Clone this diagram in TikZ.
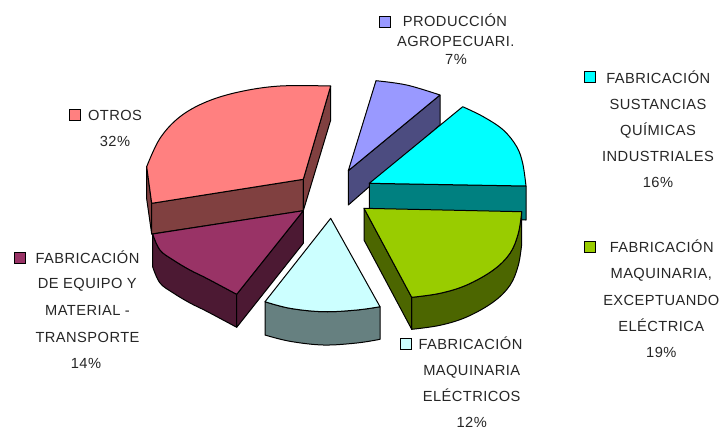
\documentclass[tikz,border=0pt]{standalone}
\usepackage{fontspec}
\newfontfamily\lblfont[LetterSpace=3]{Liberation Sans}
\definecolor{pinktop}{HTML}{FF8080}
\definecolor{pinkside}{HTML}{804040}
\definecolor{martop}{HTML}{993366}
\definecolor{marside}{HTML}{4C1933}
\definecolor{lctop}{HTML}{CCFFFF}
\definecolor{lcside}{HTML}{668080}
\definecolor{grtop}{HTML}{99CC00}
\definecolor{grside}{HTML}{4C6600}
\definecolor{cytop}{HTML}{00FFFF}
\definecolor{cyside}{HTML}{008080}
\definecolor{putop}{HTML}{9999FF}
\definecolor{puside}{HTML}{4C4C80}
\tikzset{
  face/.style={draw=black, line width=0.75pt, line join=round},
  lbl/.style={anchor=base, inner sep=0pt, text=black!85, font=\lblfont\fontsize{11}{13}\selectfont},
  lgd/.style={draw=black, line width=0.75pt, minimum size=8pt, inner sep=0pt},
  arc/.style={smooth, tension=0.6}
}
\begin{document}
\begin{tikzpicture}[x=0.75pt, y=-0.75pt]
\useasboundingbox (0,0) rectangle (722,430);

% ---------- PRODUCCION AGROPECUARIA (purple) ----------
\fill[puside, face] (348.3,170.7) -- (440,95) -- (440,125) -- (348.3,205) -- cycle;
\fill[putop, face] (348.3,170.7) -- (376,80.7)
  -- plot[arc] coordinates {(376,80.7) (406.7,85) (440,95)} -- cycle;

% ---------- SUSTANCIAS QUIMICAS (cyan) ----------
\fill[cyside, face] (369.3,183.3) -- (526,186) -- (526,220) -- (369.3,216) -- cycle;
\fill[cytop, face] (369.3,183.3) -- (462.7,106.7)
  -- plot[arc] coordinates {(462.7,106.7) (483.3,116.7) (503.3,130) (516.7,146.7) (522.7,163.3) (526,186)} -- cycle;

% ---------- OTROS (pink) ----------
\fill[pinkside, face] (146.7,166.7) -- (151.7,203.3) -- (151.7,234) -- (146.7,199) -- cycle;
\fill[pinkside, face] (151.7,203.3) -- (303.3,179.3) -- (303.3,210.7) -- (151.7,234) -- cycle;
\fill[pinkside, face] (330.7,86) -- (330.7,120) -- (303.3,210.7) -- (303.3,179.3) -- cycle;
\fill[pinktop, face] (151.7,203.3) -- (303.3,179.3) -- (330.7,86)
  -- plot[arc] coordinates {(330.7,86) (280,86) (240,91.7) (206.7,101.7) (180,116.7) (160,138.3) (146.7,166.7)} -- cycle;

% ---------- EQUIPO Y MATERIAL DE TRANSPORTE (maroon) ----------
\fill[marside, face] plot[arc] coordinates {(152.7,234) (160,250) (173.3,260) (190,270) (206.7,278.3) (236.7,294.3)}
  -- (236.7,327.3)
  -- plot[arc] coordinates {(236.7,327.3) (206.7,311.3) (190,303) (173.3,293) (160,283) (152.7,267)} -- cycle;
\fill[marside, face] (303.3,210.7) -- (236.7,294.3) -- (236.7,327.3) -- (303.3,243.3) -- cycle;
\fill[martop, face] (303.3,210.7) -- (152.7,234)
  -- plot[arc] coordinates {(152.7,234) (160,250) (173.3,260) (190,270) (206.7,278.3) (236.7,294.3)} -- cycle;

% ---------- MAQUINARIA ELECTRICOS (light cyan) ----------
\fill[lcside, face] plot[arc] coordinates {(265,301.7) (290,308.3) (323.3,311.7) (356.7,310) (380,306.7)}
  -- (380,339.3)
  -- plot[arc] coordinates {(380,339.3) (356.7,343) (323.3,345) (290,341.3) (265,335)} -- cycle;
\fill[lctop, face] (330.7,218.3) -- (265,301.7)
  -- plot[arc] coordinates {(265,301.7) (290,308.3) (323.3,311.7) (356.7,310) (380,306.7)} -- cycle;

% ---------- MAQUINARIA EXCEPTUANDO ELECTRICA (green) ----------
\fill[grside, face] plot[arc] coordinates {(521.7,211.7) (518.3,233.3) (510,253.3) (493.3,270) (466.7,285) (440,293.3) (411.7,297.3)}
  -- (411.7,329.3)
  -- plot[arc] coordinates {(411.7,329.3) (440,325.3) (466.7,317) (493.3,302) (510,285.3) (518.3,265.3) (521.7,244)} -- cycle;
\fill[grside, face] (364,208.3) -- (411.7,297.3) -- (411.7,329.3) -- (364,240) -- cycle;
\fill[grtop, face] (364,208.3) -- (521.7,211.7)
  -- plot[arc] coordinates {(521.7,211.7) (518.3,233.3) (510,253.3) (493.3,270) (466.7,285) (440,293.3) (411.7,297.3)} -- cycle;

% ---------- Labels ----------
% Produccion agropecuaria
\node[lgd, fill=putop] (sqpa) at (385,21.7) {};
\node[lbl] (pa1) at (455,26.7) {PRODUCCIÓN};
\node[lbl] (pa2) at (455.8,46.7) {AGROPECUARI.};
\node[lbl] (pa3) at (456,64.3) {7\%};

% Sustancias quimicas
\node[lgd, fill=cytop] (sqsq) at (590,77.3) {};
\node[lbl] (sq1) at (658.3,83.3) {FABRICACIÓN};
\node[lbl] (sq2) at (658,109.3) {SUSTANCIAS};
\node[lbl] (sq3) at (658,135) {QUÍMICAS};
\node[lbl] (sq4) at (658,161.7) {INDUSTRIALES};
\node[lbl] (sq5) at (658,187.7) {16\%};

% Otros
\node[lgd, fill=pinktop] (sqot) at (75,115) {};
\node[lbl] (ot1) at (115,120) {OTROS};
\node[lbl] (ot2) at (115,146) {32\%};

% Equipo y material de transporte
\node[lgd, fill=martop] (sqeq) at (20,258.3) {};
\node[lbl] (eq1) at (87.5,263.3) {FABRICACIÓN};
\node[lbl] (eq2) at (87.3,288.3) {DE EQUIPO Y};
\node[lbl] (eq3) at (87.5,315.7) {MATERIAL -};
\node[lbl] (eq4) at (87.5,342.3) {TRANSPORTE};
\node[lbl] (eq5) at (86,368.3) {14\%};

% Maquinaria exceptuando electrica
\node[lgd, fill=grtop] (sqgr) at (590,246.7) {};
\node[lbl] (gr1) at (661.7,252.3) {FABRICACIÓN};
\node[lbl] (gr2) at (661.3,278.3) {MAQUINARIA,};
\node[lbl] (gr3) at (661.3,305) {EXCEPTUANDO};
\node[lbl] (gr4) at (661.3,331.7) {ELÉCTRICA};
\node[lbl] (gr5) at (661.3,357.3) {19\%};

% Maquinaria electricos
\node[lgd, fill=lctop] (sqlc) at (406,344) {};
\node[lbl] (lc1) at (470.5,349.3) {FABRICACIÓN};
\node[lbl] (lc2) at (471.7,375) {MAQUINARIA};
\node[lbl] (lc3) at (471.7,401.7) {ELÉCTRICOS};
\node[lbl] (lc4) at (471.7,427.3) {12\%};
\end{tikzpicture}
\end{document}
